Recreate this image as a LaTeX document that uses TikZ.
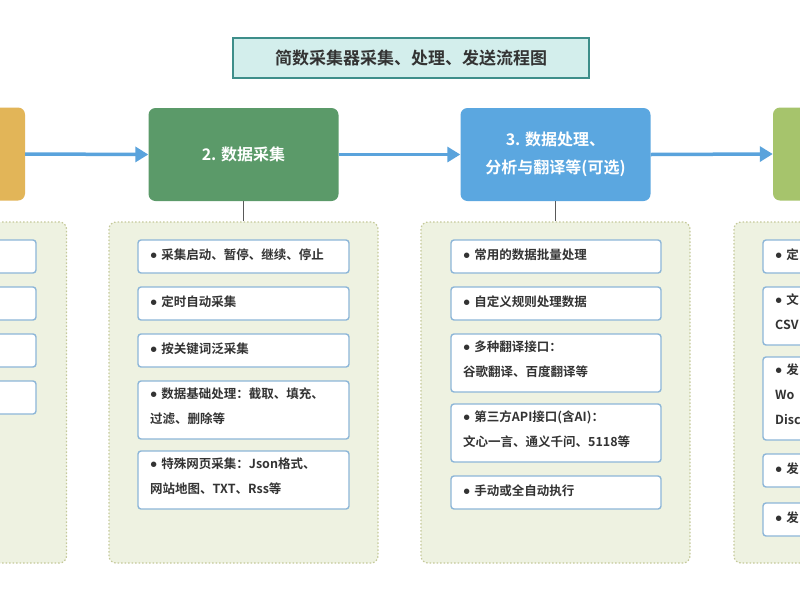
\documentclass[tikz,border=0pt]{standalone}
\usepackage{fontspec}
\setmainfont{Noto Sans CJK SC}[BoldFont={Noto Sans CJK SC Bold}]
\newfontfamily\lat{Lato}
\newcommand{\bul}{{\lat\textbullet}\hspace{4pt}}
\usetikzlibrary{arrows.meta}
\definecolor{tealfill}{HTML}{D3EEEC}
\definecolor{tealline}{HTML}{3E8E8A}
\definecolor{orangeH}{HTML}{E2B558}
\definecolor{greenH}{HTML}{5B9A69}
\definecolor{blueH}{HTML}{5BA7E0}
\definecolor{oliveH}{HTML}{A6C46C}
\definecolor{arrowC}{HTML}{5AA3DC}
\definecolor{panelF}{HTML}{EEF2E1}
\definecolor{panelL}{HTML}{C5C99A}
\definecolor{itemL}{HTML}{8DB6D8}
\definecolor{txt}{HTML}{333333}
\tikzset{
 head/.style={draw=none,rounded corners=7pt,text=white,font=\bfseries\fontsize{16}{28}\selectfont,align=center},
 panel/.style={draw=panelL,fill=panelF,dash pattern=on 1.5pt off 2pt,line width=1.2pt,rounded corners=7pt},
 item/.style={draw=itemL,fill=white,line width=1.4pt,rounded corners=3pt},
 itxt/.style={anchor=north west,text=txt,font=\bfseries\fontsize{12.5}{25}\selectfont,align=left,inner sep=0pt},
 flow/.style={draw=arrowC,line width=3.5pt,-{Triangle[length=13pt,width=15pt]}},
 stem/.style={draw=gray!70!black,line width=1.2pt}
}
\begin{document}
\begin{tikzpicture}[x=1pt,y=-1pt]
\useasboundingbox (0,0) rectangle (800,600);
\clip (0,0) rectangle (800,600);
\fill[white] (0,0) rectangle (800,600);
% title
\node[draw=tealline,fill=tealfill,line width=1.5pt,minimum width=356pt,minimum height=40pt,font=\bfseries\fontsize{17}{18}\selectfont,text=txt] (title) at (411,58) {简数采集器采集、处理、发送流程图};
% headers
\node[head,fill=orangeH,minimum width=190pt,minimum height=93pt] (h1) at (-70,154) {};
\node[head,fill=greenH,minimum width=190pt,minimum height=93pt] (h2) at (243.5,154.5) {2. 数据采集};
\node[head,fill=blueH,minimum width=190pt,minimum height=93pt] (h3) at (555.5,154.5) {3. 数据处理、\\分析与翻译等(可选)};
\node[head,fill=oliveH,minimum width=190pt,minimum height=93pt] (h4) at (868,154) {};
\draw[flow] (h1.east) -- (h2.west);
\draw[flow] (h2.east) -- (h3.west);
\draw[flow] (h3.east) -- (h4.west);
% panels
\node[panel,minimum width=269pt,minimum height=341pt] (p1) at (-68,392.5) {};
\node[panel,minimum width=269pt,minimum height=341pt] (p2) at (243.5,392.5) {};
\node[panel,minimum width=269pt,minimum height=341pt] (p3) at (555.5,392.5) {};
\node[panel,minimum width=269pt,minimum height=341pt] (p4) at (868.5,392.5) {};
\draw[stem] (h2.south) -- (p2.north);
\draw[stem] (h3.south) -- (p3.north);
% panel 1 items
\draw[item] (-175,240) rectangle (36,273);
\draw[item] (-175,287) rectangle (36,320);
\draw[item] (-175,334) rectangle (36,367);
\draw[item] (-175,381) rectangle (36,414);
% panel 2 items
\draw[item] (138,240) rectangle (349,273); \node[itxt] (a1) at (150,248.5) {\bul 采集启动、暂停、继续、停止};
\draw[item] (138,287) rectangle (349,320); \node[itxt] (a2) at (150,295.5) {\bul 定时自动采集};
\draw[item] (138,334) rectangle (349,367); \node[itxt] (a3) at (150,342.5) {\bul 按关键词泛采集};
\draw[item] (138,381) rectangle (349,439); \node[itxt] (a4) at (150,388) {\bul 数据基础处理：截取、填充、\\过滤、删除等};
\draw[item] (138,451) rectangle (349,509); \node[itxt] (a5) at (150,458) {\bul 特殊网页采集：Json格式、\\网站地图、TXT、Rss等};
% panel 3 items
\draw[item] (451,240) rectangle (661,273); \node[itxt] (b1) at (463,248.5) {\bul 常用的数据批量处理};
\draw[item] (451,287) rectangle (661,320); \node[itxt] (b2) at (463,295.5) {\bul 自定义规则处理数据};
\draw[item] (451,334) rectangle (661,392); \node[itxt] (b3) at (463,341) {\bul 多种翻译接口：\\谷歌翻译、百度翻译等};
\draw[item] (451,404) rectangle (661,462); \node[itxt] (b4) at (463,411) {\bul 第三方API接口(含AI)：\\文心一言、通义千问、5118等};
\draw[item] (451,476) rectangle (661,509); \node[itxt] (b5) at (463,484.5) {\bul 手动或全自动执行};
% panel 4 items
\draw[item] (763,240) rectangle (975,273); \node[itxt] (c1) at (775,248.5) {\bul 定};
\draw[item] (763,287) rectangle (975,345); \node[itxt] (c2) at (775,294) {\bul 文\\CSV};
\draw[item] (763,357) rectangle (975,440); \node[itxt] (c3) at (775,364) {\bul 发\\Wo\\Disc};
\draw[item] (763,454) rectangle (975,487); \node[itxt] (c4) at (775,462.5) {\bul 发};
\draw[item] (763,503) rectangle (975,536); \node[itxt] (c5) at (775,511.5) {\bul 发};
\end{tikzpicture}
\end{document}
